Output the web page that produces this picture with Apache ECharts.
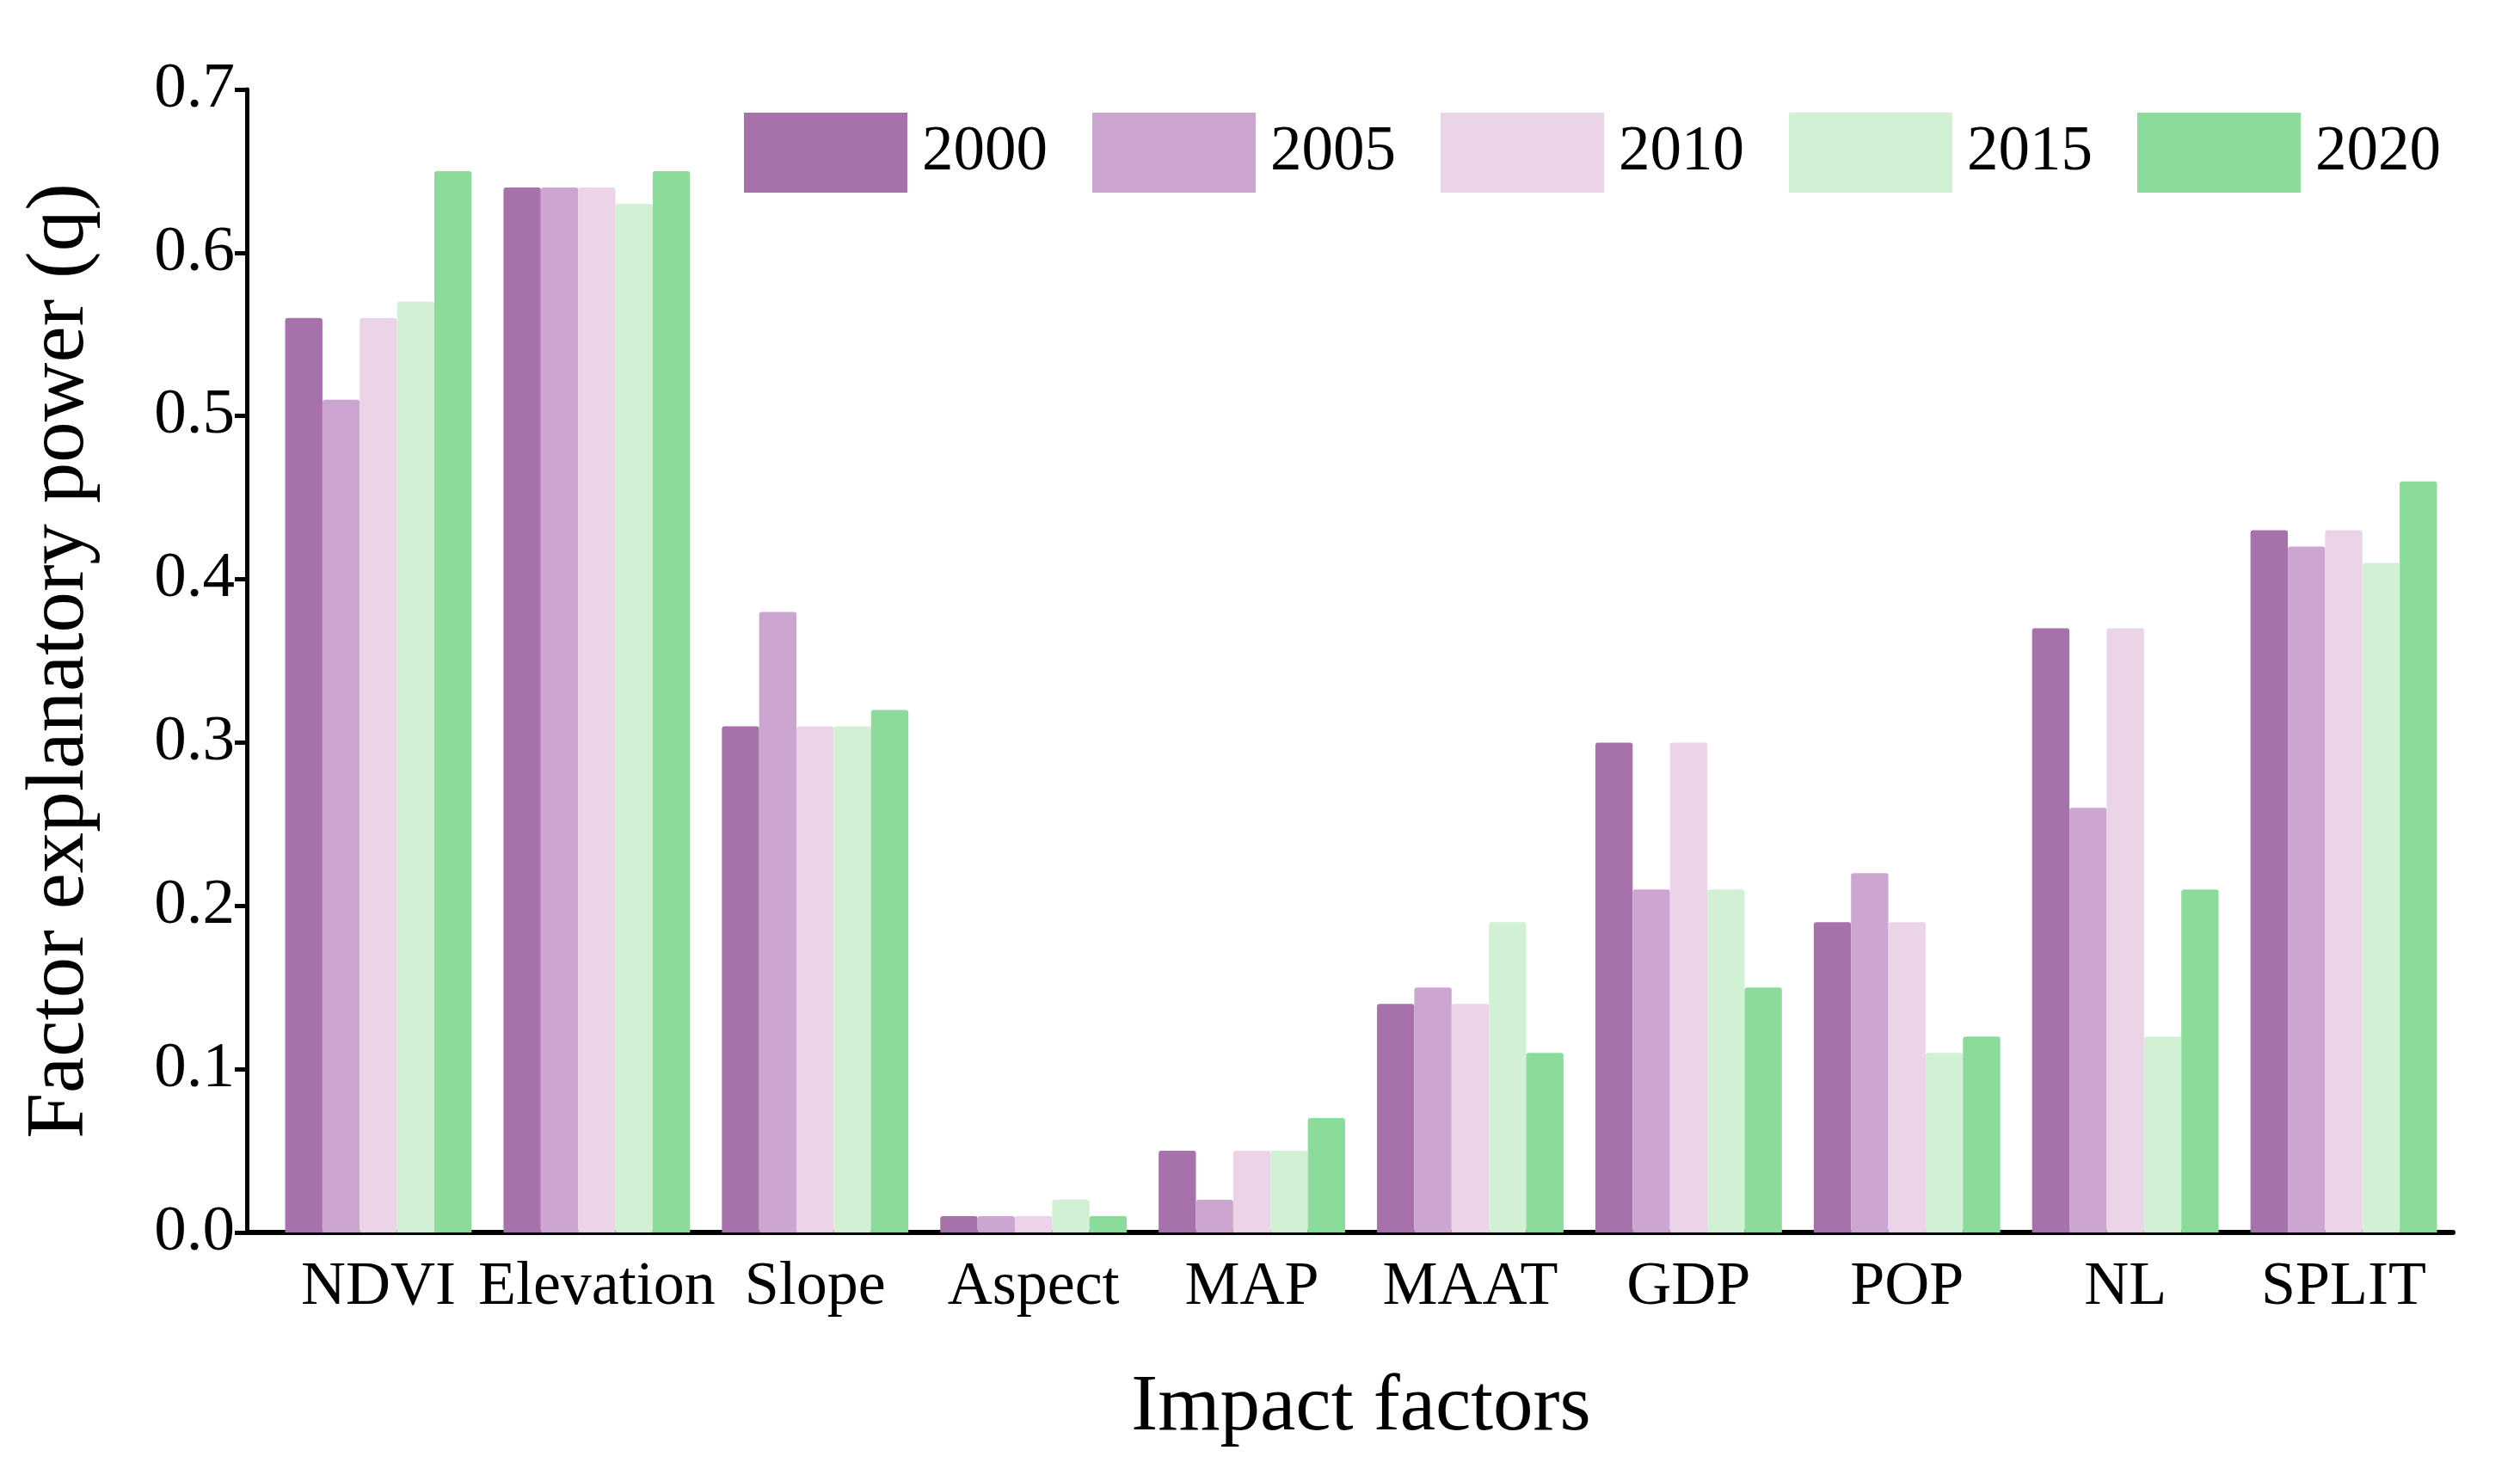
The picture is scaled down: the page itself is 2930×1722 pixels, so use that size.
<!DOCTYPE html>
<html>
<head>
<meta charset="utf-8">
<script src="https://cdn.jsdelivr.net/npm/echarts@6/dist/echarts.min.js"></script>
<style>html,body{margin:0;padding:0;background:#fff}#c{width:2930px;height:1722px}</style>
</head>
<body>
<div id="c"></div>
<script>
const categories = ['NDVI','Elevation','Slope','Aspect','MAP','MAAT','GDP','POP','NL','SPLIT'];
const years = ['2000','2005','2010','2015','2020'];
const v2000 = [0.56,0.64,0.31,0.01,0.05,0.14,0.30,0.19,0.37,0.43];
const v2005 = [0.51,0.64,0.38,0.01,0.02,0.15,0.21,0.22,0.26,0.42];
const v2010 = [0.56,0.64,0.31,0.01,0.05,0.14,0.30,0.19,0.37,0.43];
const v2015 = [0.57,0.63,0.31,0.02,0.05,0.19,0.21,0.11,0.12,0.41];
const v2020 = [0.65,0.65,0.32,0.01,0.07,0.11,0.15,0.12,0.21,0.46];
const yTicks = [0.0,0.1,0.2,0.3,0.4,0.5,0.6,0.7];
const colors = ['#A771AC','#CCA5D1','#EBD3E8','#D1F0D4','#8BDC9B'];

const FONT = 'Liberation Serif';
const values = [v2000,v2005,v2010,v2015,v2020];
const chart = echarts.init(document.getElementById('c'));
chart.setOption({
  backgroundColor:'#fff',
  animation:false,
  textStyle:{fontFamily:FONT,color:'#000'},
  legend:{
    left:860, top:126, itemWidth:190, itemHeight:93, itemGap:52,
    icon:'rect',
    data:years,
    textStyle:{fontFamily:FONT,fontSize:73,color:'#000',padding:[0,0,0,12]}
  },
  grid:[
    {left:313,right:78,top:104,bottom:289,containLabel:false},
    {left:287,right:78,top:104,bottom:289,containLabel:false}
  ],
  xAxis:[{
    type:'category', data:categories, gridIndex:0,
    axisLine:{show:false},
    axisTick:{show:false},
    axisLabel:{fontFamily:FONT,fontSize:72,color:'#000',margin:28,interval:0},
    name:'Impact factors', nameLocation:'middle', nameGap:158,
    nameTextStyle:{fontFamily:FONT,fontSize:93,color:'#000'}
  },{
    type:'value', gridIndex:1, min:0, max:1,
    axisLine:{show:true,onZero:false,lineStyle:{color:'#000',width:6}},
    axisTick:{show:false}, axisLabel:{show:false}, splitLine:{show:false}
  }],
  yAxis:[{
    type:'value', gridIndex:0, min:0, max:0.7, interval:0.1, offset:26,
    axisLine:{show:true,lineStyle:{color:'#000',width:5}},
    axisTick:{show:true,length:14,lineStyle:{color:'#000',width:5}},
    splitLine:{show:false},
    axisLabel:{fontFamily:FONT,fontSize:75,color:'#000',margin:14,
      formatter:function(v){return v.toFixed(1);}},
    name:'Factor explanatory power (q)', nameLocation:'middle', nameGap:168,
    nameTextStyle:{fontFamily:FONT,fontSize:95,color:'#000'}
  },{
    type:'value', gridIndex:1, min:0, max:1, show:false
  }],
  series: years.map((y,i)=>({
    name:y, type:'bar', xAxisIndex:0, yAxisIndex:0,
    data:values[i], barGap:'0%', barCategoryGap:'14.6%',
    itemStyle:{color:colors[i],borderRadius:[3,3,0,0]}
  }))
});
</script>
</body>
</html>
